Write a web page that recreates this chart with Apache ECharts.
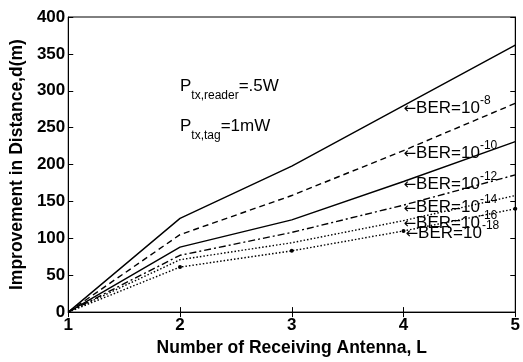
<!DOCTYPE html>
<html>
<head>
<meta charset="utf-8">
<style>
  html, body { margin: 0; padding: 0; background: #fff; }
  #chart { width: 523px; height: 362px; }
</style>
<script src="https://cdn.jsdelivr.net/npm/echarts@6/dist/echarts.min.js"></script>
</head>
<body>
<div id="chart"></div>
<script>
// Number of receiving antennas L
const antennas = [1, 2, 3, 4, 5];
// Improvement in distance d (m) for each BER target
const ber8  = [0, 127, 198, 280, 362];
const ber10 = [0, 105, 158, 219, 283];
const ber12 = [0, 88, 125, 177, 231];
const ber14 = [0, 77, 108, 145, 186];
const ber16 = [0, 71, 94, 124, 158];
const ber18 = [0, 61, 83, 110, 140];
// BER exponents used in the curve labels
const berExp = ['-8', '-10', '-12', '-14', '-16', '-18'];
const yTicks = [0, 50, 100, 150, 200, 250, 300, 350, 400];

const FONT = 'Liberation Sans, Arial, Helvetica, sans-serif';
const LABEL_AT = 3; // curve labels sit at L = 4

function buildData(values, exp, markers) {
  return values.map((v, i) => {
    const item = { value: [antennas[i], v], symbolSize: (markers && i > 0) ? 4 : 0 };
    if (i === LABEL_AT) {
      item.label = {
        show: true,
        position: 'right',
        distance: 0,
        formatter: '{r|\u2190}{a|BER=10}{s|' + exp + '}',
        rich: {
          r: { fontFamily: 'DejaVu Sans', fontSize: 15, color: '#000', lineHeight: 22, verticalAlign: 'bottom' },
          a: { fontFamily: FONT, fontSize: 17, color: '#000', lineHeight: 22, verticalAlign: 'bottom' },
          s: { fontFamily: FONT, fontSize: 12, color: '#000', lineHeight: 12, verticalAlign: 'top' }
        }
      };
    }
    return item;
  });
}

const styles = [
  { data: ber8,  type: 'solid' },
  { data: ber10, type: [6, 4] },
  { data: ber12, type: 'solid' },
  { data: ber14, type: [7, 3, 2, 3] },
  { data: ber16, type: [1.5, 2] },
  { data: ber18, type: [1.5, 2], markers: true }
];

const series = styles.map((s, k) => ({
  type: 'line',
  data: buildData(s.data, berExp[k], s.markers),
  symbol: 'circle',
  showSymbol: true,
  itemStyle: { color: '#000' },
  lineStyle: { color: '#000', width: 1.4, type: s.type },
  labelLayout: { hideOverlap: false },
  emphasis: { disabled: true },
  silent: true,
  animation: false,
  z: 3
}));

const chart = echarts.init(document.getElementById('chart'), null, { renderer: 'canvas' });

const tickLabel = { color: '#000', fontFamily: FONT, fontSize: 17, fontWeight: 'bold' };
const nameStyle = { color: '#000', fontFamily: FONT, fontSize: 17.5, fontWeight: 'bold' };

chart.setOption({
  animation: false,
  backgroundColor: '#fff',
  grid: { left: 67, right: 4, top: 17, bottom: 42, show: true, borderColor: '#000', borderWidth: 1 },
  xAxis: [
    {
      type: 'value', min: 1, max: 5, interval: 1,
      name: 'Number of Receiving Antenna, L',
      nameLocation: 'middle', nameGap: 26,
      nameTextStyle: nameStyle,
      axisLine: { show: true, lineStyle: { color: '#000', width: 1 } },
      axisTick: { show: true, inside: true, length: 5, lineStyle: { color: '#000' } },
      axisLabel: Object.assign({ margin: 5 }, tickLabel),
      splitLine: { show: false }
    },
    {
      type: 'value', min: 1, max: 5, interval: 1, position: 'top',
      axisLine: { show: true, lineStyle: { color: '#000', width: 1 } },
      axisTick: { show: true, inside: true, length: 5, lineStyle: { color: '#000' } },
      axisLabel: { show: false },
      splitLine: { show: false }
    }
  ],
  yAxis: [
    {
      type: 'value', min: yTicks[0], max: yTicks[yTicks.length - 1], interval: 50,
      name: 'Improvement in Distance,d(m)',
      nameLocation: 'middle', nameGap: 35,
      nameTextStyle: nameStyle,
      axisLine: { show: true, lineStyle: { color: '#000', width: 1 } },
      axisTick: { show: true, inside: true, length: 5, lineStyle: { color: '#000' } },
      axisLabel: Object.assign({ margin: 3 }, tickLabel),
      splitLine: { show: false }
    },
    {
      type: 'value', min: yTicks[0], max: yTicks[yTicks.length - 1], interval: 50, position: 'right',
      axisLine: { show: true, lineStyle: { color: '#000', width: 1 } },
      axisTick: { show: true, inside: true, length: 5, lineStyle: { color: '#000' } },
      axisLabel: { show: false },
      splitLine: { show: false }
    }
  ],
  graphic: [
    {
      type: 'text', left: 180, top: 78,
      style: {
        text: '{p|P}{sub|tx,reader}{p|=.5W}',
        rich: {
          p: { fontFamily: FONT, fontSize: 17, color: '#000', lineHeight: 18, verticalAlign: 'top' },
          sub: { fontFamily: FONT, fontSize: 12, color: '#000', lineHeight: 12, verticalAlign: 'bottom', padding: [0, 0, -6, 0] }
        }
      }
    },
    {
      type: 'text', left: 180, top: 118,
      style: {
        text: '{p|P}{sub|tx,tag}{p|=1mW}',
        rich: {
          p: { fontFamily: FONT, fontSize: 17, color: '#000', lineHeight: 18, verticalAlign: 'top' },
          sub: { fontFamily: FONT, fontSize: 12, color: '#000', lineHeight: 12, verticalAlign: 'bottom', padding: [0, 0, -6, 0] }
        }
      }
    }
  ],
  series: series
});
</script>
</body>
</html>
